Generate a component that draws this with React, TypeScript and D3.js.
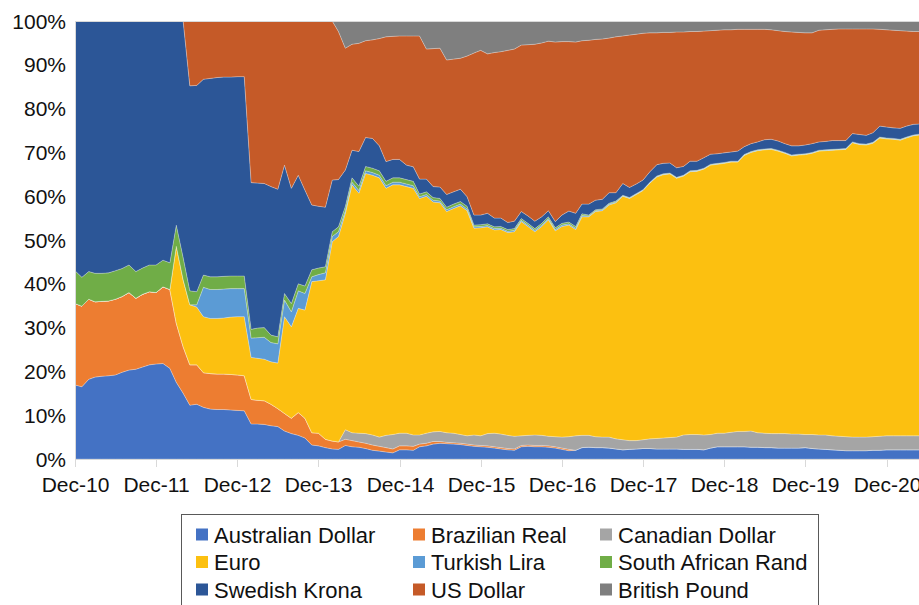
import React from "react";
import * as d3 from "d3";

const W = 919;
const H = 605;
const margin = { top: 21, left: 75, bottom: 146 };

// monthly observations, Dec-10 .. May-21 (shares in %)
const firstMonth = new Date(2010, 11, 1);
const monthCount = 126;

const australianDollar = [
  16.9, 16.5, 18.2, 18.7, 18.9, 19.0, 19.2, 19.8, 20.3, 20.5,
  21.0, 21.5, 21.7, 21.8, 20.7, 17.5, 15.0, 12.3, 12.5, 11.8,
  11.4, 11.3, 11.3, 11.2, 11.1, 11.0, 8.0, 8.0, 7.9, 7.6,
  7.4, 6.4, 5.8, 5.4, 4.8, 3.2, 3.0, 2.6, 2.3, 2.2,
  3.1, 2.8, 2.7, 2.4, 2.0, 1.8, 1.6, 1.4, 2.1, 2.1,
  2.0, 2.8, 3.0, 3.4, 3.6, 3.5, 3.4, 3.3, 3.1, 2.9,
  2.8, 2.7, 2.5, 2.3, 2.1, 2.0, 2.8, 2.9, 2.8, 2.8,
  2.7, 2.5, 2.2, 1.9, 2.0, 2.6, 2.7, 2.6, 2.6, 2.5,
  2.3, 2.1, 2.2, 2.3, 2.4, 2.4, 2.3, 2.3, 2.3, 2.3,
  2.2, 2.2, 2.2, 2.1, 2.5, 2.8, 2.8, 2.8, 2.8, 2.8,
  2.7, 2.7, 2.6, 2.6, 2.5, 2.5, 2.5, 2.5, 2.6, 2.4,
  2.3, 2.2, 2.1, 2.0, 1.9, 1.9, 1.9, 1.9, 2.0, 2.0,
  2.1, 2.1, 2.1, 2.1, 2.1, 2.1,
];
const brazilianReal = [
  18.6, 18.4, 18.3, 17.2, 17.1, 17.1, 17.3, 17.3, 17.7, 16.2,
  16.6, 16.7, 16.3, 17.5, 18.0, 13.5, 10.6, 9.2, 9.0, 7.9,
  8.1, 8.1, 8.1, 8.1, 8.1, 8.0, 5.6, 5.4, 5.4, 4.9,
  4.1, 4.0, 3.5, 5.2, 4.5, 2.8, 2.9, 1.9, 1.8, 1.7,
  1.4, 1.4, 1.2, 1.2, 1.2, 1.1, 1.0, 0.9, 0.9, 0.9,
  0.9, 0.6, 0.6, 0.6, 0.4, 0.3, 0.3, 0.3, 0.3, 0.3,
  0.3, 0.3, 0.3, 0.3, 0.3, 0.3, 0.3, 0.3, 0.3, 0.3,
  0.3, 0.3, 0.3, 0.3, 0, 0, 0, 0, 0, 0,
  0, 0, 0, 0, 0, 0, 0, 0, 0, 0,
  0, 0, 0, 0, 0, 0, 0, 0, 0, 0,
  0, 0, 0, 0, 0, 0, 0, 0, 0, 0,
  0, 0, 0, 0, 0, 0, 0, 0, 0, 0,
  0, 0, 0, 0, 0, 0,
];
const canadianDollar = [
  0, 0, 0, 0, 0, 0, 0, 0, 0, 0,
  0, 0, 0, 0, 0, 0, 0, 0, 0, 0,
  0, 0, 0, 0, 0, 0, 0, 0, 0, 0,
  0, 0, 0, 0, 0, 0, 0, 0, 0, 0,
  2.2, 1.8, 2.0, 2.2, 2.3, 2.1, 2.8, 3.3, 2.9, 2.9,
  2.6, 2.1, 2.3, 2.2, 2.3, 2.2, 2.2, 2.0, 1.9, 2.3,
  2.2, 2.8, 3.1, 3.1, 3.0, 2.9, 2.2, 2.2, 2.4, 2.3,
  2.2, 2.3, 2.5, 2.9, 3.3, 2.8, 2.7, 2.5, 2.4, 2.5,
  2.3, 2.3, 2.0, 1.9, 2.0, 2.2, 2.4, 2.5, 2.6, 2.7,
  3.3, 3.4, 3.4, 3.4, 3.1, 3.1, 3.1, 3.3, 3.5, 3.5,
  3.7, 3.3, 3.3, 3.2, 3.3, 3.3, 3.2, 3.2, 3.0, 3.2,
  3.2, 3.3, 3.2, 3.2, 3.2, 3.1, 3.1, 3.1, 3.1, 3.2,
  3.2, 3.2, 3.2, 3.2, 3.2, 3.2,
];
const euro = [
  0, 0, 0, 0, 0, 0, 0, 0, 0, 0,
  0, 0, 0, 0, 0, 17.6, 15.3, 13.7, 13.2, 12.8,
  12.6, 12.7, 12.8, 13.1, 13.3, 13.5, 9.6, 9.6, 9.5, 9.7,
  10.4, 22.1, 20.9, 23.8, 24.7, 34.5, 34.8, 36.4, 45.5, 46.9,
  49.4, 56.6, 54.8, 59.4, 59.3, 59.2, 56.4, 57.0, 56.7, 56.3,
  56.3, 54.0, 54.1, 52.5, 52.2, 50.5, 51.3, 52.2, 51.4, 47.2,
  47.5, 47.2, 46.4, 46.7, 46.3, 46.7, 48.9, 47.7, 46.4, 47.7,
  49.4, 47.0, 48.1, 48.3, 47.1, 49.9, 49.9, 51.4, 51.7, 53.0,
  53.9, 55.6, 55.3, 56.2, 56.9, 58.4, 59.7, 60.1, 60.2, 59.1,
  59.1, 60.0, 60.1, 60.7, 61.5, 61.4, 61.6, 61.7, 61.5, 63.0,
  63.6, 64.4, 64.7, 64.9, 64.5, 64.0, 63.5, 63.7, 63.9, 64.2,
  64.8, 64.9, 65.2, 65.4, 65.6, 67.2, 66.8, 66.7, 67.0, 68.1,
  67.8, 67.7, 67.5, 68.0, 68.5, 68.7,
];
const turkishLira = [
  0, 0, 0, 0, 0, 0, 0, 0, 0, 0,
  0, 0, 0, 0, 0, 0, 0, 0, 0.5, 6.7,
  6.6, 6.6, 6.6, 6.5, 6.4, 6.4, 4.4, 4.7, 5.0, 4.4,
  4.4, 3.8, 3.4, 4.0, 3.8, 1.1, 1.4, 1.6, 1.2, 1.1,
  0.6, 0.6, 0.6, 0.6, 0.6, 0.6, 0.6, 0.6, 0.6, 0.6,
  0.6, 0.4, 0.4, 0.4, 0.4, 0.4, 0.4, 0.4, 0.4, 0.3,
  0.3, 0.3, 0.3, 0.3, 0.3, 0.3, 0.3, 0.3, 0.3, 0.3,
  0.3, 0.3, 0.3, 0.3, 0.3, 0.3, 0.2, 0.2, 0.2, 0.2,
  0.2, 0.1, 0.1, 0.1, 0.1, 0.1, 0.1, 0.1, 0.1, 0.1,
  0.1, 0.1, 0.1, 0.1, 0.1, 0.1, 0.1, 0.1, 0.1, 0.1,
  0.1, 0.1, 0.1, 0.1, 0.1, 0.1, 0.1, 0.1, 0.1, 0.1,
  0.1, 0.1, 0.1, 0.1, 0.1, 0.1, 0.1, 0.1, 0.1, 0.1,
  0.1, 0.1, 0.1, 0.1, 0.1, 0.1,
];
const southAfricanRand = [
  7.5, 6.6, 6.3, 6.5, 6.4, 6.4, 6.5, 6.4, 6.3, 6.1,
  6.0, 6.1, 6.3, 6.1, 6.1, 4.8, 5.1, 3.2, 3.0, 2.8,
  2.9, 2.9, 2.9, 2.9, 2.9, 2.9, 2.0, 2.2, 2.2, 1.7,
  1.6, 1.5, 1.9, 1.6, 1.7, 1.6, 1.5, 1.4, 1.1, 1.1,
  1.0, 1.0, 1.0, 1.0, 1.0, 1.0, 1.0, 1.0, 1.0, 1.0,
  1.0, 0.6, 0.6, 0.6, 0.6, 0.6, 0.6, 0.6, 0.6, 0.4,
  0.4, 0.4, 0.4, 0.4, 0.4, 0.4, 0.4, 0.4, 0.4, 0.4,
  0.4, 0.4, 0.4, 0.4, 0.4, 0.4, 0.2, 0.2, 0.2, 0.2,
  0.2, 0.1, 0.1, 0.1, 0.1, 0.1, 0.1, 0.1, 0.1, 0.1,
  0.1, 0.1, 0.1, 0.1, 0.1, 0.1, 0.1, 0.1, 0.1, 0.1,
  0.1, 0.1, 0.1, 0.1, 0.1, 0.1, 0.1, 0.1, 0.1, 0.1,
  0.1, 0.1, 0.1, 0.1, 0.1, 0.1, 0.1, 0.1, 0.1, 0.1,
  0.1, 0.1, 0.1, 0.1, 0.1, 0.1,
];
const swedishKrona = [
  57.0, 58.5, 57.2, 57.6, 57.6, 57.5, 57.0, 56.5, 55.7, 57.2,
  56.4, 55.7, 55.7, 54.6, 55.2, 46.6, 54.0, 46.8, 47.1, 44.7,
  45.3, 45.5, 45.5, 45.4, 45.5, 45.5, 33.5, 33.1, 32.9, 33.9,
  33.7, 29.3, 26.3, 24.8, 21.9, 14.8, 14.1, 13.6, 11.8, 10.8,
  8.3, 6.3, 7.9, 6.6, 6.8, 5.7, 4.5, 4.2, 4.2, 3.3,
  3.3, 3.4, 2.9, 2.5, 2.6, 2.9, 2.8, 2.8, 2.2, 2.3,
  2.2, 2.4, 2.0, 1.9, 1.6, 1.7, 1.6, 1.7, 1.7, 1.5,
  1.4, 1.4, 1.9, 2.5, 3.0, 2.2, 2.5, 2.2, 2.2, 2.4,
  1.9, 2.7, 2.3, 2.2, 2.2, 2.4, 2.6, 2.4, 2.3, 2.2,
  2.0, 2.2, 2.1, 2.4, 2.3, 2.2, 2.2, 2.1, 2.3, 1.8,
  1.8, 1.8, 2.1, 2.1, 2.1, 2.0, 2.1, 1.9, 2.0, 2.0,
  1.9, 1.9, 2.0, 1.9, 1.8, 1.9, 2.1, 2.0, 2.2, 2.5,
  2.5, 2.4, 2.5, 2.5, 2.4, 2.3,
];
const usDollar = [
  0, 0, 0, 0, 0, 0, 0, 0, 0, 0,
  0, 0, 0, 0, 0, 0, 0, 14.8, 14.7, 13.3,
  13.1, 12.9, 12.8, 12.8, 12.7, 12.7, 36.9, 37.0, 37.1, 37.8,
  38.4, 32.9, 38.2, 35.2, 38.6, 42.0, 42.3, 42.5, 36.3, 33.8,
  27.8, 24.2, 24.7, 22.1, 22.5, 24.5, 28.5, 28.1, 28.2, 29.5,
  29.9, 32.7, 29.7, 31.5, 31.7, 30.7, 30.3, 29.9, 32.1, 37.0,
  37.6, 36.4, 37.8, 38.0, 39.3, 39.3, 38.0, 39.1, 40.4, 39.7,
  38.7, 41.0, 39.6, 38.7, 39.1, 37.3, 37.4, 36.7, 36.6, 35.3,
  35.6, 33.7, 34.8, 34.2, 33.5, 31.7, 30.1, 29.9, 29.8, 31.0,
  30.7, 29.6, 29.6, 28.9, 28.2, 28.2, 28.1, 27.9, 27.8, 26.8,
  26.1, 25.7, 25.2, 25.0, 25.2, 25.6, 26.0, 25.9, 25.6, 25.3,
  25.5, 25.5, 25.4, 25.5, 25.5, 23.9, 24.1, 24.3, 23.7, 22.1,
  22.2, 22.3, 22.3, 21.7, 21.2, 21.1,
];
const britishPound = [
  0, 0, 0, 0, 0, 0, 0, 0, 0, 0,
  0, 0, 0, 0, 0, 0, 0, 0, 0, 0,
  0, 0, 0, 0, 0, 0, 0, 0, 0, 0,
  0, 0, 0, 0, 0, 0, 0, 0, 0, 2.4,
  6.2, 5.3, 5.1, 4.5, 4.3, 4.0, 3.6, 3.5, 3.4, 3.4,
  3.4, 3.4, 6.4, 6.3, 6.2, 8.9, 8.7, 8.5, 8.0, 7.3,
  6.7, 7.5, 7.2, 7.0, 6.7, 6.4, 5.5, 5.4, 5.3, 5.0,
  4.6, 4.8, 4.7, 4.7, 4.8, 4.5, 4.4, 4.2, 4.1, 3.9,
  3.6, 3.4, 3.2, 3.0, 2.8, 2.7, 2.7, 2.6, 2.6, 2.5,
  2.5, 2.4, 2.4, 2.3, 2.2, 2.1, 2.0, 2.0, 1.9, 1.9,
  1.9, 1.9, 1.9, 2.0, 2.2, 2.4, 2.5, 2.6, 2.7, 2.7,
  2.1, 2.0, 1.9, 1.8, 1.8, 1.8, 1.8, 1.8, 1.8, 1.9,
  2.0, 2.1, 2.2, 2.3, 2.4, 2.4,
];

const seriesNames = [
  "Australian Dollar", "Brazilian Real", "Canadian Dollar",
  "Euro", "Turkish Lira", "South African Rand",
  "Swedish Krona", "US Dollar", "British Pound",
];
const seriesValues = [
  australianDollar, brazilianReal, canadianDollar,
  euro, turkishLira, southAfricanRand,
  swedishKrona, usDollar, britishPound,
];
const colors = [
  "#4472C4", "#ED7D31", "#A5A5A5",
  "#FCC010", "#5B9BD5", "#70AD47",
  "#2C5697", "#C55A28", "#7F7F7F",
];
const yTicks = [0, 0.1, 0.2, 0.3, 0.4, 0.5, 0.6, 0.7, 0.8, 0.9, 1];
const tickYears = [2010, 2011, 2012, 2013, 2014, 2015, 2016, 2017, 2018, 2019, 2020];

export default function App() {
  const plotBottom = H - margin.bottom;
  const months = d3.range(monthCount).map(
    (i) => new Date(firstMonth.getFullYear(), firstMonth.getMonth() + i, 1)
  );
  const rows = months.map((date, i) => {
    const r: any = { date };
    seriesNames.forEach((k, j) => (r[k] = seriesValues[j][i]));
    return r;
  });

  const stack = d3.stack().keys(seriesNames).offset(d3.stackOffsetExpand);
  const layers = stack(rows);

  // Dec-10 .. Dec-20 span the measured tick positions
  const x = d3
    .scaleTime()
    .domain([new Date(2010, 11, 1), new Date(2020, 11, 1)])
    .range([margin.left, 886.5]);
  const y = d3.scaleLinear().domain([0, 1]).range([plotBottom, margin.top]);

  const area = d3
    .area<any>()
    .x((d) => x(d.data.date))
    .y0((d) => y(d[0]))
    .y1((d) => y(d[1]));

  const fmtDate = d3.timeFormat("%b-%y");
  const tickDates = tickYears.map((yr) => new Date(yr, 11, 1));

  const legendX = [196, 413, 600];
  const legendY = [534.5, 562, 589.5];

  return (
    <svg
      width={W}
      height={H}
      style={{ position: "absolute", left: 0, top: 0, display: "block" }}
      fontFamily='"Liberation Sans", Arial, sans-serif'
    >
      <rect width={W} height={H} fill="#fff" />
      <g>
        {layers.map((layer, i) => (
          <path
            key={layer.key}
            d={area(layer) || ""}
            fill={colors[i]}
            stroke="rgba(255,255,255,0.35)"
            strokeWidth={0.7}
          />
        ))}
      </g>
      <line x1={margin.left} x2={W} y1={margin.top + 0.5} y2={margin.top + 0.5} stroke="#d9d9d9" />
      <line x1={margin.left + 0.5} x2={margin.left + 0.5} y1={margin.top} y2={plotBottom} stroke="#d9d9d9" />
      <line x1={margin.left} x2={W} y1={plotBottom + 0.5} y2={plotBottom + 0.5} stroke="#d9d9d9" />
      {tickDates.map((d, i) => (
        <g key={i} transform={`translate(${Math.round(x(d)) + 0.5},0)`}>
          <line y1={plotBottom} y2={plotBottom + 8} stroke="#d9d9d9" />
          <text y={492} textAnchor="middle" fontSize={21} fill="#111">
            {fmtDate(d)}
          </text>
        </g>
      ))}
      {yTicks.map((t) => (
        <text key={t} x={66} y={y(t) + 7.5} textAnchor="end" fontSize={21} fill="#111">
          {d3.format(".0%")(t)}
        </text>
      ))}
      <rect x={181.5} y={514.5} width={637} height={120} fill="#fff" stroke="#595959" />
      {seriesNames.map((name, i) => {
        const cx = legendX[i % 3];
        const cy = legendY[Math.floor(i / 3)];
        return (
          <g key={name}>
            <rect x={cx} y={cy - 6} width={12} height={12} fill={colors[i]} />
            <text x={cx + 18} y={cy + 8} fontSize={22} fill="#111">
              {name}
            </text>
          </g>
        );
      })}
    </svg>
  );
}
